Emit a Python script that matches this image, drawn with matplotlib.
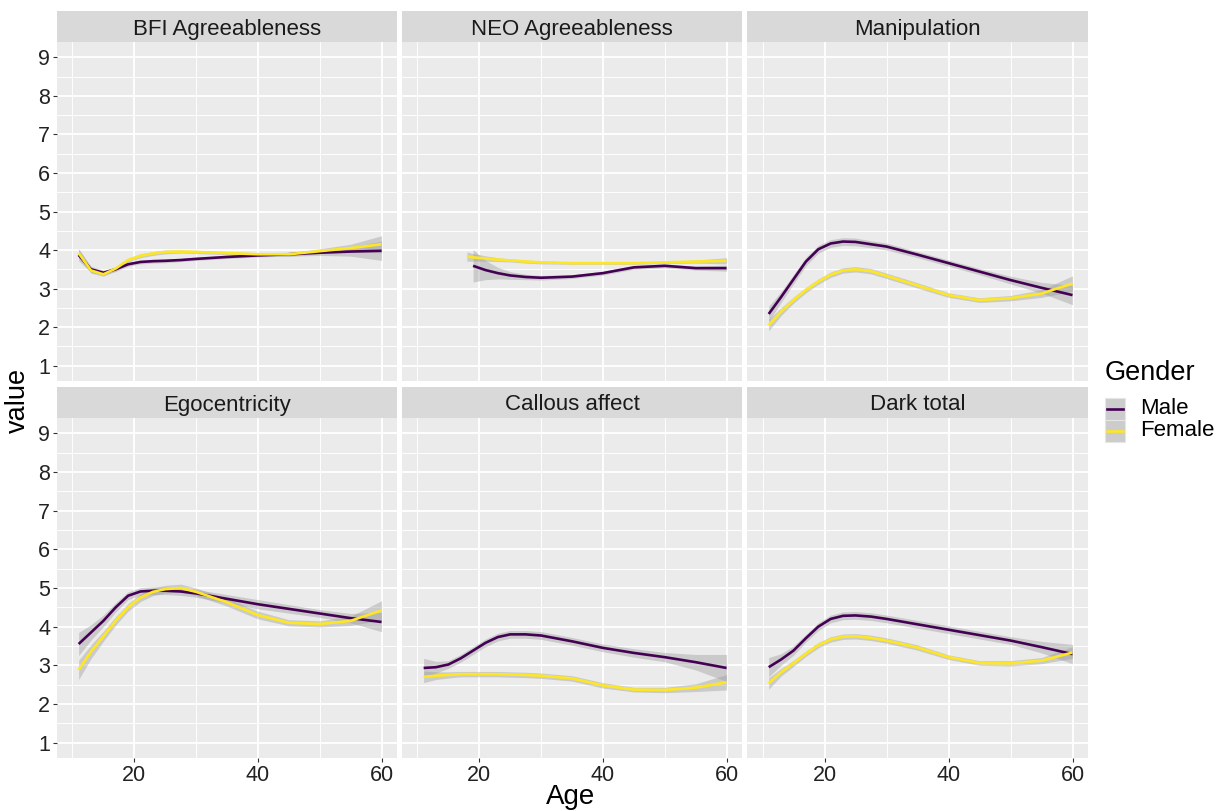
import numpy as np
import matplotlib
matplotlib.use("Agg")
import matplotlib.pyplot as plt
from matplotlib.lines import Line2D
from matplotlib.patches import Rectangle

plt.rcParams['font.family'] = ['Liberation Sans', 'DejaVu Sans']

# ---------------- data ----------------
panel_titles = ["BFI Agreeableness", "NEO Agreeableness", "Manipulation",
                "Egocentricity", "Callous affect", "Dark total"]
genders = ["Male", "Female"]
gender_colors = ["#440154", "#FDE725"]

age_grid = [11, 13, 15, 17, 19, 21, 23, 25, 27.5, 30, 35, 40, 45, 50, 55, 60]
neo_age = [18, 19, 21, 23, 25, 27.5, 30, 35, 40, 45, 50, 55, 60]

bfi_male = [3.87, 3.50, 3.41, 3.50, 3.63, 3.69, 3.71, 3.72, 3.74, 3.77, 3.82, 3.86, 3.89, 3.93, 3.96, 3.98]
bfi_female = [3.92, 3.47, 3.37, 3.52, 3.74, 3.85, 3.91, 3.95, 3.96, 3.95, 3.92, 3.89, 3.89, 3.97, 4.05, 4.15]
bfi_male_se = [0.15, 0.08, 0.06, 0.06, 0.05, 0.05, 0.05, 0.05, 0.04, 0.04, 0.04, 0.04, 0.05, 0.07, 0.12, 0.25]
bfi_female_se = [0.12, 0.07, 0.05, 0.05, 0.05, 0.05, 0.05, 0.05, 0.04, 0.04, 0.04, 0.04, 0.05, 0.06, 0.10, 0.22]

neo_male = [np.nan, 3.59, 3.48, 3.40, 3.34, 3.30, 3.28, 3.31, 3.40, 3.55, 3.59, 3.53, 3.53]
neo_female = [3.83, 3.81, 3.78, 3.75, 3.73, 3.70, 3.68, 3.66, 3.66, 3.66, 3.68, 3.70, 3.72]
neo_male_se = [np.nan, 0.42, 0.25, 0.15, 0.10, 0.07, 0.06, 0.05, 0.05, 0.05, 0.05, 0.05, 0.08]
neo_female_se = [0.12, 0.10, 0.07, 0.05, 0.04, 0.04, 0.04, 0.03, 0.03, 0.03, 0.03, 0.04, 0.08]

manip_male = [2.34, 2.78, 3.24, 3.70, 4.02, 4.17, 4.22, 4.21, 4.15, 4.09, 3.88, 3.66, 3.44, 3.22, 3.02, 2.83]
manip_female = [2.05, 2.40, 2.70, 2.96, 3.18, 3.36, 3.47, 3.50, 3.45, 3.33, 3.08, 2.83, 2.70, 2.75, 2.87, 3.13]
manip_male_se = [0.20, 0.14, 0.12, 0.11, 0.10, 0.10, 0.10, 0.10, 0.09, 0.09, 0.08, 0.08, 0.08, 0.10, 0.14, 0.25]
manip_female_se = [0.15, 0.10, 0.08, 0.07, 0.07, 0.07, 0.07, 0.07, 0.07, 0.07, 0.07, 0.06, 0.06, 0.07, 0.10, 0.20]

ego_male = [3.55, 3.85, 4.15, 4.50, 4.80, 4.91, 4.93, 4.93, 4.91, 4.86, 4.72, 4.58, 4.46, 4.34, 4.22, 4.12]
ego_female = [2.88, 3.35, 3.75, 4.15, 4.50, 4.75, 4.90, 4.97, 5.00, 4.90, 4.63, 4.30, 4.10, 4.07, 4.15, 4.42]
ego_male_se = [0.30, 0.20, 0.15, 0.12, 0.10, 0.10, 0.10, 0.10, 0.10, 0.10, 0.11, 0.12, 0.11, 0.10, 0.12, 0.25]
ego_female_se = [0.25, 0.18, 0.13, 0.11, 0.10, 0.10, 0.10, 0.10, 0.10, 0.10, 0.10, 0.10, 0.08, 0.08, 0.12, 0.25]

callous_male = [2.93, 2.95, 3.02, 3.18, 3.38, 3.58, 3.73, 3.80, 3.80, 3.77, 3.62, 3.45, 3.32, 3.21, 3.08, 2.93]
callous_female = [2.70, 2.73, 2.75, 2.77, 2.77, 2.77, 2.77, 2.76, 2.75, 2.73, 2.66, 2.48, 2.37, 2.36, 2.42, 2.56]
callous_male_se = [0.25, 0.15, 0.10, 0.10, 0.10, 0.10, 0.10, 0.10, 0.10, 0.10, 0.10, 0.10, 0.11, 0.12, 0.20, 0.35]
callous_female_se = [0.15, 0.10, 0.08, 0.07, 0.07, 0.07, 0.07, 0.07, 0.07, 0.07, 0.07, 0.07, 0.06, 0.07, 0.10, 0.20]

dark_male = [2.95, 3.15, 3.38, 3.70, 4.00, 4.20, 4.28, 4.29, 4.26, 4.20, 4.06, 3.92, 3.78, 3.64, 3.47, 3.29]
dark_female = [2.53, 2.82, 3.05, 3.30, 3.52, 3.67, 3.74, 3.75, 3.71, 3.64, 3.46, 3.21, 3.06, 3.05, 3.12, 3.33]
dark_male_se = [0.25, 0.15, 0.12, 0.10, 0.10, 0.10, 0.10, 0.10, 0.10, 0.10, 0.10, 0.10, 0.10, 0.10, 0.15, 0.25]
dark_female_se = [0.15, 0.10, 0.08, 0.07, 0.07, 0.07, 0.07, 0.07, 0.07, 0.07, 0.07, 0.06, 0.06, 0.07, 0.08, 0.15]

x_ticks = [20, 40, 60]
y_ticks = [1, 2, 3, 4, 5, 6, 7, 8, 9]

panels = [
    (age_grid, bfi_male, bfi_female, bfi_male_se, bfi_female_se),
    (neo_age, neo_male, neo_female, neo_male_se, neo_female_se),
    (age_grid, manip_male, manip_female, manip_male_se, manip_female_se),
    (age_grid, ego_male, ego_female, ego_male_se, ego_female_se),
    (age_grid, callous_male, callous_female, callous_male_se, callous_female_se),
    (age_grid, dark_male, dark_female, dark_male_se, dark_female_se),
]

# ---------------- layout ----------------
W, H = 1220, 811
fig = plt.figure(figsize=(W / 100, H / 100), dpi=100)

col_x = [(57, 397), (402, 742), (747, 1088)]
row_y = [((11, 42), (42, 381)), ((387, 418), (418, 758))]

def fig_rect(x0, x1, y0, y1):
    return [x0 / W, 1 - y1 / H, (x1 - x0) / W, (y1 - y0) / H]

for i, (ages, male, female, male_se, female_se) in enumerate(panels):
    r, c = divmod(i, 3)
    (sx0, sx1) = col_x[c]
    (st, sb), (pt, pb) = row_y[r]
    ax = fig.add_axes(fig_rect(sx0, sx1, pt, pb))
    ax.set_facecolor("#EBEBEB")
    for s in ax.spines.values():
        s.set_visible(False)
    ax.set_xlim(7.5, 62.5)
    ax.set_ylim(0.6, 9.4)
    ax.set_xticks(x_ticks)
    ax.set_xticks([10, 30, 50], minor=True)
    ax.set_yticks(y_ticks)
    ax.set_yticks([y + 0.5 for y in y_ticks[:-1]], minor=True)
    ax.grid(True, which="major", color="white", lw=1.3)
    ax.grid(True, which="minor", color="white", lw=0.65)
    ax.set_axisbelow(True)
    ax.tick_params(which="minor", length=0)
    ax.tick_params(which="major", length=3, width=0.8, color="#333333",
                   labelsize=15.5, labelcolor="#222222", pad=2)
    if c != 0:
        ax.tick_params(axis="y", labelleft=False, length=0)
    if r != 1:
        ax.tick_params(axis="x", labelbottom=False, length=0)

    a = np.array(ages, dtype=float)
    for vals, se in ((male, male_se), (female, female_se)):
        v = np.array(vals, dtype=float)
        e = np.array(se, dtype=float)
        ax.fill_between(a, v - e, v + e, color="#999999", alpha=0.4, lw=0, zorder=2)
    for vals, col in ((male, gender_colors[0]), (female, gender_colors[1])):
        ax.plot(ages, vals, color=col, lw=1.9, solid_joinstyle="round",
                solid_capstyle="butt", zorder=3)

    sax = fig.add_axes(fig_rect(sx0, sx1, st, sb))
    sax.set_facecolor("#D9D9D9")
    sax.set_xticks([]); sax.set_yticks([])
    for s in sax.spines.values():
        s.set_visible(False)
    sax.text(0.5, 0.5, panel_titles[i], ha="center", va="center_baseline",
             fontsize=16, color="#1A1A1A", transform=sax.transAxes)

fig.text(571 / W, 1 - 797 / H, "Age", ha="center", va="center", fontsize=20)
fig.text(18 / W, 1 - 400 / H, "value", ha="center", va="center", fontsize=19.5,
         rotation=90)

# ---------------- legend ----------------
fig.text(1105 / W, 1 - 373 / H, "Gender", ha="left", va="center", fontsize=19.5)
key_y = [(398, 420), (420, 442)]
for (ky0, ky1), col, lab in zip(key_y, gender_colors, genders):
    fig.patches.append(Rectangle((1105 / W, 1 - ky1 / H), 20 / W, (ky1 - ky0) / H,
                                 transform=fig.transFigure, facecolor="#CCCCCC",
                                 edgecolor="#E6E6E6", lw=0.8))
    ym = 1 - (ky0 + ky1) / 2 / H
    fig.lines.append(Line2D([1107 / W, 1123 / W], [ym, ym], transform=fig.transFigure,
                            color=col, lw=1.9))
    fig.text(1140 / W, ym, lab, ha="left", va="center", fontsize=16)

fig.savefig("out.png", dpi=100)
